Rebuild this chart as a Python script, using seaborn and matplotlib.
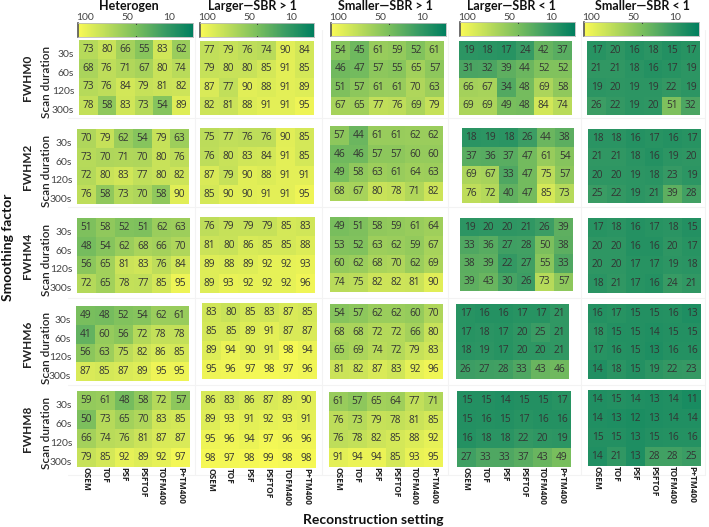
import numpy as np
import matplotlib
matplotlib.use("Agg")
import matplotlib.pyplot as plt
from matplotlib.colors import LinearSegmentedColormap
from matplotlib.transforms import ScaledTranslation
import seaborn as sns

# Values, one list per panel column, each holds 5 smoothing levels
heterogen = [
    [[73, 80, 66, 55, 83, 62], [68, 76, 71, 67, 80, 74], [73, 76, 84, 79, 81, 82], [78, 58, 83, 73, 54, 89]],
    [[70, 79, 62, 54, 79, 63], [73, 70, 71, 70, 80, 76], [72, 80, 83, 77, 80, 82], [76, 58, 73, 70, 58, 90]],
    [[51, 58, 52, 51, 62, 63], [48, 54, 62, 68, 66, 70], [56, 65, 81, 83, 76, 84], [72, 65, 78, 77, 85, 95]],
    [[49, 48, 52, 54, 62, 61], [41, 60, 56, 72, 78, 78], [56, 63, 75, 82, 86, 85], [87, 85, 87, 89, 95, 95]],
    [[59, 61, 48, 58, 72, 57], [50, 73, 65, 70, 83, 85], [66, 74, 76, 81, 87, 87], [79, 85, 92, 89, 92, 97]],
]
larger_high = [
    [[77, 79, 76, 74, 90, 84], [79, 80, 80, 85, 91, 85], [87, 77, 90, 88, 91, 89], [82, 81, 88, 91, 91, 95]],
    [[75, 77, 76, 76, 90, 85], [76, 80, 83, 84, 91, 85], [87, 79, 90, 88, 91, 91], [85, 90, 90, 91, 91, 95]],
    [[76, 79, 79, 79, 85, 83], [81, 80, 86, 85, 85, 88], [89, 88, 89, 92, 92, 93], [89, 93, 92, 92, 92, 96]],
    [[83, 80, 85, 83, 87, 85], [85, 85, 89, 91, 87, 87], [89, 94, 90, 91, 98, 94], [95, 96, 97, 98, 97, 96]],
    [[86, 83, 86, 87, 89, 90], [89, 93, 91, 92, 93, 91], [95, 96, 94, 97, 96, 96], [98, 97, 98, 99, 98, 98]],
]
smaller_high = [
    [[54, 45, 61, 59, 52, 61], [46, 47, 57, 55, 65, 57], [51, 57, 61, 61, 70, 63], [67, 65, 77, 76, 69, 79]],
    [[57, 44, 61, 61, 62, 62], [46, 46, 57, 57, 60, 60], [49, 58, 63, 61, 64, 63], [68, 67, 80, 78, 71, 82]],
    [[49, 51, 58, 59, 61, 64], [53, 52, 63, 62, 59, 67], [60, 62, 68, 70, 62, 69], [74, 75, 82, 82, 81, 90]],
    [[54, 57, 62, 62, 60, 70], [68, 68, 72, 72, 66, 80], [65, 69, 74, 72, 79, 83], [81, 82, 87, 83, 92, 96]],
    [[61, 57, 65, 64, 77, 71], [76, 73, 79, 78, 81, 85], [76, 78, 82, 85, 88, 92], [91, 94, 94, 85, 93, 95]],
]
larger_low = [
    [[19, 18, 17, 24, 42, 37], [31, 32, 39, 44, 52, 52], [66, 67, 34, 48, 69, 58], [69, 69, 49, 48, 84, 74]],
    [[18, 19, 18, 26, 44, 38], [37, 36, 37, 47, 61, 54], [69, 67, 33, 47, 75, 57], [76, 72, 40, 47, 85, 73]],
    [[19, 20, 20, 21, 26, 39], [33, 36, 27, 28, 50, 38], [38, 39, 22, 27, 55, 33], [39, 43, 30, 26, 73, 57]],
    [[17, 16, 16, 17, 17, 21], [17, 18, 17, 20, 25, 21], [18, 19, 17, 20, 20, 21], [26, 27, 28, 33, 43, 46]],
    [[15, 15, 14, 15, 15, 17], [15, 16, 15, 17, 16, 16], [16, 18, 18, 22, 20, 19], [27, 33, 33, 37, 43, 49]],
]
smaller_low = [
    [[17, 20, 16, 18, 15, 17], [21, 21, 18, 16, 17, 19], [19, 20, 19, 19, 22, 19], [26, 22, 19, 20, 51, 32]],
    [[18, 18, 16, 17, 16, 17], [21, 21, 18, 16, 19, 20], [20, 20, 19, 18, 23, 19], [25, 22, 19, 21, 39, 28]],
    [[17, 18, 16, 17, 18, 15], [20, 20, 16, 16, 20, 17], [20, 20, 17, 17, 19, 18], [18, 21, 17, 16, 24, 21]],
    [[16, 17, 15, 15, 16, 13], [18, 15, 15, 14, 15, 15], [17, 16, 15, 13, 16, 16], [14, 18, 15, 19, 22, 23]],
    [[14, 15, 14, 13, 14, 11], [14, 13, 12, 13, 14, 14], [15, 15, 13, 15, 16, 16], [14, 21, 13, 28, 28, 25]],
]

columns = ["Heterogen", "Larger\u2014SBR > 1", "Smaller\u2014SBR > 1", "Larger\u2014SBR < 1", "Smaller\u2014SBR < 1"]
smoothing = ["FWHM0", "FWHM2", "FWHM4", "FWHM6", "FWHM8"]
durations = ["30s", "60s", "120s", "300s"]
settings = ["OSEM", "TOF", "PSF", "PSFTOF", "TOFM400", "P+TM400"]
cbar_labels = ["100", "50", "10"]
panels = [heterogen, larger_high, smaller_high, larger_low, smaller_low]

# panel boxes in pixels: x0, x1, y0, y1 (the source figure is hand assembled, so nothing lines up)
boxes = [
    [(79, 190, 40, 115), (77, 189, 129, 204), (77, 190, 218, 293), (76, 189, 306, 381), (77, 190, 391, 467)],
    [(200, 314, 41, 115), (200, 314, 128, 204), (200, 315, 217, 293), (202, 317, 303, 379), (201, 316, 391, 468)],
    [(331, 444, 41, 115), (330, 443, 126, 201), (330, 443, 217, 292), (330, 443, 304, 379), (329, 443, 392, 467)],
    [(459, 572, 41, 115), (462, 574, 128, 203), (460, 573, 218, 291), (456, 569, 304, 379), (457, 571, 391, 467)],
    [(587, 700, 41, 115), (588, 701, 129, 203), (588, 701, 218, 293), (588, 701, 304, 379), (588, 701, 390, 466)],
]
cbar_boxes = [(78, 193, 23, 37), (200, 314, 23, 37), (331, 446, 23, 36), (460, 575, 22, 36), (584, 699, 22, 36)]
title_x = [129, 252, 385, 511, 642]

W, H = 709, 527
cmap = LinearSegmentedColormap.from_list(
    "yg", [(0, "#007F5F"), (0.25, "#3A9C64"), (0.5, "#7BBF5D"), (0.75, "#BBDC5A"), (1, "#FAFA55")]
)
open_sans = ["Open Sans", "DejaVu Sans"]

sns.set_theme(style="white")
plt.rcParams["font.family"] = ["Lato", "DejaVu Sans"]
fig = plt.figure(figsize=(W / 100, H / 100), dpi=100)


def add_axes(box):
    x0, x1, y0, y1 = box
    return fig.add_axes([x0 / W, 1 - y1 / H, (x1 - x0) / W, (y1 - y0) / H])


# faint separators behind the panels
bg = fig.add_axes([0, 0, 1, 1], zorder=-1)
bg.set_xlim(0, W)
bg.set_ylim(H, 0)
bg.axis("off")
for yy in [118, 207, 298, 385, 475]:
    bg.plot([68, 705], [yy, yy], color="#F3F3F3", lw=0.8)
for xx in [195, 322, 448, 581, 705]:
    bg.plot([xx, xx], [30, 475], color="#F3F3F3", lw=0.8)

for c, data in enumerate(panels):
    for r, vals in enumerate(data):
        ax = add_axes(boxes[c][r])
        sns.heatmap(
            np.array(vals), ax=ax, vmin=0, vmax=100, cmap=cmap, cbar=False,
            annot=True, fmt="d",
            annot_kws={"fontsize": 7.3, "color": "#333333", "family": open_sans},
            xticklabels=settings if r == 4 else False,
            yticklabels=durations if c == 0 else False,
        )
        ax.tick_params(length=0)
        if r == 4:
            ax.tick_params(axis="x", pad=0)
            plt.setp(ax.get_xticklabels(), rotation=270, fontsize=6, fontweight="bold", family=open_sans,
                     ha="center", va="top", color="#222222")
        if c == 0:
            shift = ScaledTranslation(0, -5 / 100, fig.dpi_scale_trans)
            plt.setp(ax.get_yticklabels(), rotation=0, fontsize=7.5, color="#444444")
            for lab in ax.get_yticklabels():
                lab.set_transform(lab.get_transform() + shift)
            y_mid = 1 - (boxes[c][r][2] + boxes[c][r][3]) / 2 / H
            fig.text(28 / W, y_mid, smoothing[r], rotation=90, ha="center", va="center",
                     fontsize=8.5, fontweight="bold", color="#222222")
            fig.text(46 / W, y_mid - 4 / H, "Scan duration", rotation=90, ha="center", va="center",
                     fontsize=8.5, fontweight="semibold", color="#222222")

    # colour key above each column
    cax = add_axes(cbar_boxes[c])
    sns.heatmap(np.linspace(100, 0, 256).reshape(1, -1), ax=cax, vmin=0, vmax=100, cmap=cmap,
                cbar=False, xticklabels=False, yticklabels=False)
    cax.plot([128, 128], [0, 0.08], color="#333333", lw=0.8)
    cax.plot([128, 128], [0.92, 1], color="#333333", lw=0.8)
    for name, sp in cax.spines.items():
        sp.set_visible(True)
        sp.set_color("#555555" if name == "left" else "#BBBBBB")
        sp.set_linewidth(1.2 if name == "left" else 0.6)
    x0, x1, y0, y1 = cbar_boxes[c]
    for off, lab in zip([7, 49, 91], cbar_labels):
        fig.text((x0 + off) / W, 1 - 17 / H, lab, ha="center", va="center", fontsize=7.5, color="#444444")
    fig.text(title_x[c] / W, 1 - 6 / H, columns[c], ha="center", va="center",
             fontsize=9, fontweight="bold", color="#111111")

fig.text(8 / W, 1 - 247 / H, "Smoothing factor", rotation=90, ha="center", va="center",
         fontsize=10, fontweight="bold", color="#111111")
fig.text(373 / W, 1 - 520 / H, "Reconstruction setting", ha="center", va="center",
         fontsize=10, fontweight="bold", color="#111111")

fig.savefig("out.png", dpi=100)
